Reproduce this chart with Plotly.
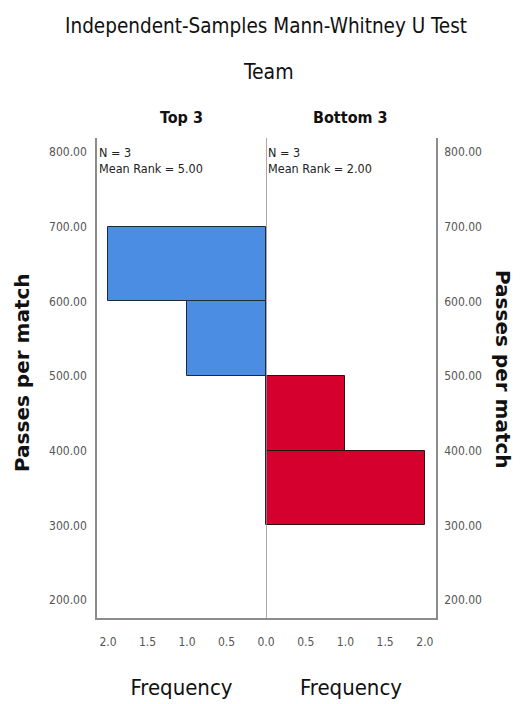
import plotly.graph_objects as go

# Histogram bins (Passes per match) and frequencies for each team group
bin_lower = [300, 400, 500, 600]
bin_width = 100
freq_top3 = [0, 0, 1, 2]
freq_bottom3 = [2, 1, 0, 0]

groups = ["Top 3", "Bottom 3"]
n_counts = [3, 3]
mean_ranks = [5.00, 2.00]

y_ticks = [200, 300, 400, 500, 600, 700, 800]
x_ticks_left = [0.0, 0.5, 1.0, 1.5, 2.0]
x_ticks_right = [0.5, 1.0, 1.5, 2.0]

BLUE = "#4a8de2"
RED = "#d6002e"
AXIS_GRAY = "#8c8c8c"
NARROW = "DejaVu Sans Condensed, Liberation Sans Narrow, sans-serif"
WIDE = "DejaVu Sans, Verdana, sans-serif"

centers = [b + bin_width / 2 for b in bin_lower]

fig = go.Figure()
fig.add_trace(go.Bar(
    y=centers, x=freq_top3, width=bin_width, orientation="h",
    marker=dict(color=BLUE, line=dict(color="#1c2a3a", width=1)),
    xaxis="x", yaxis="y", showlegend=False, hoverinfo="x+y",
))
fig.add_trace(go.Bar(
    y=centers, x=freq_bottom3, width=bin_width, orientation="h",
    marker=dict(color=RED, line=dict(color="#2a1010", width=1)),
    xaxis="x2", yaxis="y2", showlegend=False, hoverinfo="x+y",
))

tick_font = dict(family=NARROW, size=12, color="#555555")
axis_title_font = dict(family=NARROW, size=22, color="#111111")
y_title_font = dict(family=WIDE, size=20, color="#111111", weight="bold")
y_range = [176, 819]
x_max = 2.14

common = dict(showline=True, linecolor=AXIS_GRAY, linewidth=1.5, showgrid=False,
              zeroline=False, ticks="", tickfont=tick_font, automargin=False)

fig.update_layout(
    width=522, height=704,
    margin=dict(l=97, r=86, t=138, b=86),
    plot_bgcolor="white", paper_bgcolor="white",
    bargap=0,
    xaxis=dict(domain=[0, 0.4985], range=[x_max, 0], tickvals=x_ticks_left,
               tickformat=".1f", ticklabelstandoff=12,
               title=dict(text="Frequency", font=axis_title_font, standoff=31), **common),
    xaxis2=dict(domain=[0.4985, 1], range=[0, x_max], tickvals=x_ticks_right,
                tickformat=".1f", ticklabelstandoff=12, anchor="y2",
                title=dict(text="Frequency", font=axis_title_font, standoff=31), **common),
    yaxis=dict(range=y_range, tickvals=y_ticks, tickformat=".2f",
               ticklabelstandoff=6, anchor="x", **common),
    yaxis2=dict(range=y_range, tickvals=y_ticks, tickformat=".2f", side="right",
                anchor="x2", ticklabelstandoff=4, matches="y", **common),
)

# Vertical divider at zero frequency between the two groups
fig.add_shape(type="line", xref="x2", yref="paper", x0=0, x1=0, y0=0, y1=1,
              line=dict(color=AXIS_GRAY, width=1.5))

plot_h = 704 - 138 - 86
plot_w = 522 - 97 - 86


def paper_y(px):
    return 1 + (138 - px) / plot_h


def paper_x(px):
    return (px - 97) / plot_w


fig.add_annotation(text="Independent-Samples Mann-Whitney U Test", xref="paper", yref="paper",
                   x=paper_x(266), y=paper_y(26), showarrow=False, yanchor="middle",
                   font=dict(family=NARROW, size=20.5, color="#111111"))
fig.add_annotation(text="Team", xref="paper", yref="paper",
                   x=paper_x(268), y=paper_y(72), showarrow=False, yanchor="middle",
                   font=dict(family=NARROW, size=21, color="#111111"))

for i, g in enumerate(groups):
    xr = "x domain" if i == 0 else "x2 domain"
    fig.add_annotation(text=g, xref=xr, yref="paper", x=0.5, y=paper_y(118),
                       showarrow=False, yanchor="middle",
                       font=dict(family=NARROW, size=16, color="#111111", weight="bold"))
    fig.add_annotation(text=f"N = {n_counts[i]}<br>Mean Rank = {mean_ranks[i]:.2f}",
                       xref=xr, yref="paper", x=0, y=1, xanchor="left", yanchor="top",
                       align="left", showarrow=False, xshift=0, yshift=-5,
                       font=dict(family=NARROW, size=12.5, color="#222222"))

# Axis titles for the passes scale, on both sides
fig.add_annotation(text="Passes per match", xref="paper", yref="paper",
                   x=paper_x(22), y=paper_y(373), textangle=-90,
                   showarrow=False, font=y_title_font,
                   xanchor="center", yanchor="middle")
fig.add_annotation(text="Passes per match", xref="paper", yref="paper",
                   x=paper_x(503), y=paper_y(369), textangle=90,
                   showarrow=False, font=y_title_font,
                   xanchor="center", yanchor="middle")

fig.write_html("out.html")
